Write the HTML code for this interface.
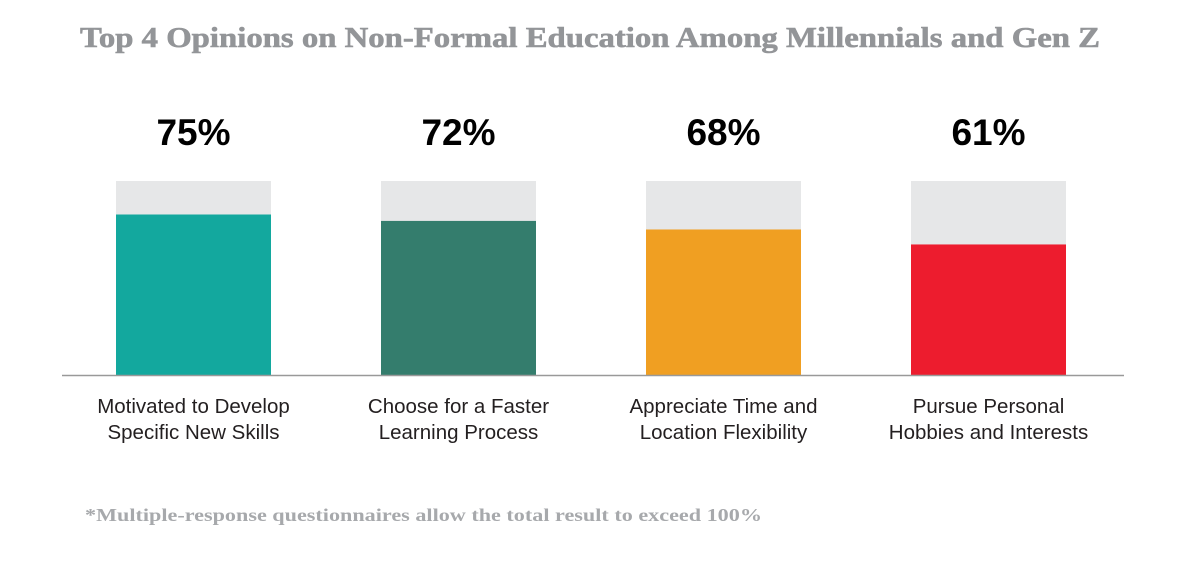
<!DOCTYPE html>
<html><head><meta charset="utf-8"><style>
html,body{margin:0;padding:0;background:#fff;}
svg{display:block;}
</style></head><body>
<svg id="chart" width="1184" height="574" viewBox="0 0 1184 574">
<text x="590" y="47" text-anchor="middle" textLength="1020" lengthAdjust="spacingAndGlyphs" font-family="'Liberation Serif', serif" font-weight="bold" font-size="29" fill="#939598" stroke="#939598" stroke-width="0.6">Top 4 Opinions on Non-Formal Education Among Millennials and Gen Z</text>
<g id="bars"></g>
<line x1="62" y1="375.5" x2="1124" y2="375.5" stroke="#999" stroke-width="1.5"/>
<text x="85" y="521" textLength="677" lengthAdjust="spacingAndGlyphs" font-family="'Liberation Serif', serif" font-weight="bold" font-size="18" fill="#a7a9ac">*Multiple-response questionnaires allow the total result to exceed 100%</text>
</svg>
<script>
const categories = [["Motivated to Develop","Specific New Skills"],["Choose for a Faster","Learning Process"],["Appreciate Time and","Location Flexibility"],["Pursue Personal","Hobbies and Interests"]];
const values = [75, 72, 68, 61];
const valueLabels = ["75%","72%","68%","61%"];
const colors = ["#13a89e","#347d6d","#f09f22","#ed1c2e"];
const ns = "http://www.w3.org/2000/svg";
const base = 375, pxPer = 2.14, trackTop = 181;
const y = v => base - v * pxPer;
const xLeft = i => 116 + i * 265;
const bw = 155;
const g = document.getElementById('bars');
function mk(tag, attrs){const e=document.createElementNS(ns,tag);for(const k in attrs)e.setAttribute(k,attrs[k]);return e;}
values.forEach((v,i)=>{
  const cx = xLeft(i) + bw/2;
  const track = mk('rect',{x:xLeft(i),y:trackTop,width:bw,height:base-trackTop,fill:'#e6e7e8'});
  
  
  g.appendChild(track);
  const bar = mk('rect',{x:xLeft(i),y:y(v),width:bw,height:base-y(v),fill:colors[i]});
  
  
  g.appendChild(bar);
  const t = mk('text',{x:cx,y:145,'text-anchor':'middle','font-family':"'Liberation Sans', sans-serif",'font-weight':'bold','font-size':'37',fill:'#000'});
  t.textContent = valueLabels[i];
  
  
  g.appendChild(t);
  categories[i].forEach((line,j)=>{
    const c = mk('text',{x:cx,y:413+j*26,'text-anchor':'middle','font-family':"'Liberation Sans', sans-serif",'font-size':'20.5',fill:'#231f20'});
    c.textContent = line;
    
    
    g.appendChild(c);
  });
});
</script>
</body></html>
